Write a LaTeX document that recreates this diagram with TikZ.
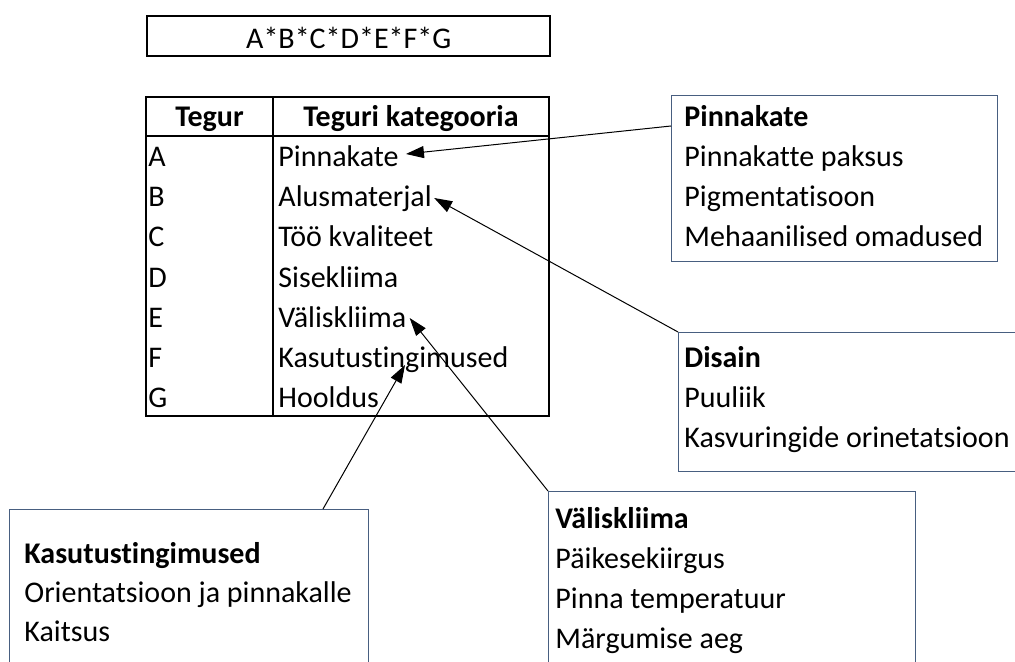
\documentclass[tikz,border=0pt]{standalone}
\usepackage{fontspec}
\setmainfont[Ligatures=NoCommon]{Carlito}
\usepackage{tikz}
\usetikzlibrary{arrows.meta,positioning,calc}
\definecolor{boxline}{RGB}{72,94,128}
\newcommand{\tekst}{\fontsize{15}{20}\selectfont}
\tikzset{
	formula/.style = {draw, line width=1.2pt, rectangle, minimum width=201.5pt, text height=15pt, text depth=3pt, inner ysep=1pt, anchor=north west},
	cell/.style = {anchor=base west, inner sep=0pt},
	headcell/.style = {anchor=base, inner sep=0pt, font=\tekst\bfseries},
	infobox/.style = {draw=boxline, line width=0.6pt, rectangle, anchor=north west, inner sep=0pt},
	boxrow/.style = {anchor=base west, inner sep=0pt},
	boxhead/.style = {boxrow, font=\tekst\bfseries},
	link/.style = {-{Triangle[length=9pt,width=6pt]}, line width=0.5pt}
}

\begin{document}
\begin{tikzpicture}[x=0.5pt,y=-0.5pt,font=\tekst]
		\clip (0,0) rectangle (1015,662);
		% valem
		\node[formula] (valem) at (146,15) {A*B*C*D*E*F*G};
		% tabel
		\draw[line width=1.2pt] (146,97) rectangle (549,416);
		\draw[line width=1.2pt] (146,136) -- (549,136);
		\draw[line width=1.2pt] (273,97) -- (273,416);
		\node[headcell] (pTegur) at (209.5,127) {Tegur};
		\node[headcell] (pKategooria) at (411,127) {Teguri kategooria};
		\foreach \t/\k [count=\i] in {A/Pinnakate, B/Alusmaterjal, C/Töö kvaliteet, D/Sisekliima, E/Väliskliima, F/Kasutustingimused, G/Hooldus}{
			\node[cell] (tegur\t) at (148,{127+40*\i}) {\t};
			\node[cell] (kat\t) at (278,{127+40*\i}) {\k};
		}
		% kastid
		\node[infobox, minimum width=163pt, minimum height=83pt] (kastPinnakate) at (671,95) {};
		\node[boxhead] (pinPea) at (684,127) {Pinnakate};
		\foreach \r [count=\j] in {Pinnakatte paksus, Pigmentatisoon, Mehaanilised omadused}
			\node[boxrow] (pinRida\j) at (684,{127+40*\j}) {\r};

		\node[infobox, minimum width=181pt, minimum height=69.5pt] (kastDisain) at (678,332) {};
		\node[boxhead] (disPea) at (684,367) {Disain};
		\foreach \r [count=\j] in {Puuliik, Kasvuringide orinetatsioon}
			\node[boxrow] (disRida\j) at (684,{367+40*\j}) {\r};

		\node[infobox, minimum width=183.5pt, minimum height=95pt] (kastValis) at (548,491) {};
		\node[boxhead] (valPea) at (555,528) {Väliskliima};
		\foreach \r [count=\j] in {Päikesekiirgus, Pinna temperatuur, Märgumise aeg}
			\node[boxrow] (valRida\j) at (555,{528+40*\j}) {\r};

		\node[infobox, minimum width=179.5pt, minimum height=90pt] (kastKasutus) at (9,509) {};
		\node[boxhead] (kasPea) at (24,563) {Kasutustingimused};
		\foreach \r [count=\j] in {Orientatsioon ja pinnakalle, Kaitsus}
			\node[boxrow] (kasRida\j) at (24,{563+39*\j}) {\r};
		% nooled
		\draw[link] ($(kastPinnakate.north west)+(0,31)$) -- ($(katA.base east)+(7,-13)$);
		\draw[link] (kastDisain.north west) -- ($(katB.base east)+(2,-9)$);
		\draw[link] (kastValis.north west) -- ($(katE.base east)+(3,-9)$);
		\draw[link] ($(kastKasutus.north west)+(314,0)$) -- ($(katF.base west)+(127,-2)$);
	\end{tikzpicture}
\end{document}
